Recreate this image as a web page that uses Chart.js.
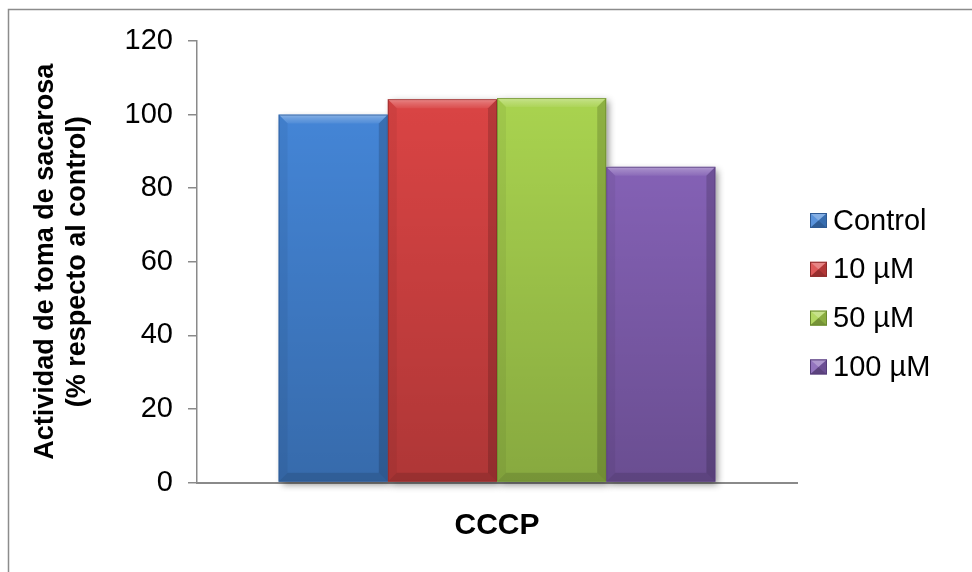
<!DOCTYPE html>
<html>
<head>
<meta charset="utf-8">
<script src="https://cdn.jsdelivr.net/npm/chart.js@4.4.1/dist/chart.umd.min.js"></script>
<style>
  html, body { margin: 0; padding: 0; background: #ffffff; }
  canvas { display: block; }
</style>
</head>
<body>
<canvas id="chart" width="972" height="572"></canvas>
<script>
// Sucrose uptake activity relative to control, CCCP treatment
const categories = ['CCCP'];
const seriesNames = ['Control', '10 µM', '50 µM', '100 µM'];
const controlValues = [100];
const tenMicroValues = [104.2];
const fiftyMicroValues = [104.5];
const hundredMicroValues = [85.8];
const yAxisTitle = ['Actividad de toma de sacarosa', '(% respecto al control)'];

const FONT = '"Liberation Sans", Arial, Helvetica, sans-serif';
const barColors = ['#4485D6', '#DA4444', '#A9D34F', '#8461B5'];
const edgeColors = ['#2E5A94', '#8E2A2A', '#6A8A2E', '#553C7A'];

const seriesValues = [controlValues, tenMicroValues, fiftyMicroValues, hundredMicroValues];

function barRect(el) {
  const p = el.getProps(['x', 'y', 'base', 'width'], true);
  return { l: p.x - p.width / 2, r: p.x + p.width / 2, t: Math.min(p.y, p.base), b: Math.max(p.y, p.base) };
}

// white page with a thin frame line on the top and left
const framePlugin = {
  id: 'frame',
  beforeDraw(chart) {
    const ctx = chart.ctx;
    ctx.save();
    ctx.fillStyle = '#ffffff';
    ctx.fillRect(0, 0, chart.width, chart.height);
    ctx.strokeStyle = '#8c8c8c';
    ctx.lineWidth = 1.5;
    ctx.beginPath();
    ctx.moveTo(8.5, chart.height);
    ctx.lineTo(8.5, 9.5);
    ctx.lineTo(chart.width, 9.5);
    ctx.stroke();
    ctx.restore();
  }
};

// soft drop shadow behind the bar group, then bevelled faces on each bar
const bevelPlugin = {
  id: 'bevel',
  beforeDatasetsDraw(chart) {
    const ctx = chart.ctx;
    ctx.save();
    ctx.shadowColor = 'rgba(0,0,0,0.45)';
    ctx.shadowBlur = 7;
    ctx.shadowOffsetX = 3;
    ctx.shadowOffsetY = 3;
    ctx.fillStyle = '#ffffff';
    chart.data.datasets.forEach((ds, i) => {
      chart.getDatasetMeta(i).data.forEach(el => {
        const r = barRect(el);
        ctx.fillRect(r.l, r.t, r.r - r.l, r.b - r.t);
      });
    });
    ctx.restore();
  },
  afterDatasetsDraw(chart) {
    const ctx = chart.ctx;
    const s = 9;
    chart.data.datasets.forEach((ds, i) => {
      chart.getDatasetMeta(i).data.forEach(el => {
        const { l, r, t, b } = barRect(el);
        ctx.save();
        // body shading, darker toward the base
        let g = ctx.createLinearGradient(0, t, 0, b);
        g.addColorStop(0, 'rgba(0,0,0,0)');
        g.addColorStop(1, 'rgba(0,0,0,0.2)');
        ctx.fillStyle = g;
        ctx.fillRect(l, t, r - l, b - t);
        // top face
        g = ctx.createLinearGradient(0, t, 0, t + s);
        g.addColorStop(0, 'rgba(255,255,255,0.38)');
        g.addColorStop(0.4, 'rgba(255,255,255,0.22)');
        g.addColorStop(1, 'rgba(255,255,255,0.06)');
        ctx.fillStyle = g;
        ctx.beginPath();
        ctx.moveTo(l, t); ctx.lineTo(r, t); ctx.lineTo(r - s, t + s); ctx.lineTo(l + s, t + s);
        ctx.closePath(); ctx.fill();
        // left face
        ctx.fillStyle = 'rgba(0,0,0,0.05)';
        ctx.beginPath();
        ctx.moveTo(l, t); ctx.lineTo(l + s, t + s); ctx.lineTo(l + s, b - s); ctx.lineTo(l, b);
        ctx.closePath(); ctx.fill();
        // right face
        ctx.fillStyle = 'rgba(0,0,0,0.16)';
        ctx.beginPath();
        ctx.moveTo(r, t); ctx.lineTo(r - s, t + s); ctx.lineTo(r - s, b - s); ctx.lineTo(r, b);
        ctx.closePath(); ctx.fill();
        // bottom face
        ctx.fillStyle = 'rgba(0,0,0,0.12)';
        ctx.beginPath();
        ctx.moveTo(l, b); ctx.lineTo(l + s, b - s); ctx.lineTo(r - s, b - s); ctx.lineTo(r, b);
        ctx.closePath(); ctx.fill();
        // outline
        ctx.strokeStyle = edgeColors[i];
        ctx.globalAlpha = 0.7;
        ctx.lineWidth = 1;
        ctx.strokeRect(l + 0.5, t + 0.5, r - l - 1, b - t - 1);
        ctx.restore();
      });
    });
  }
};

// legend column to the right of the plot with pyramid-style swatches
const sideLegendPlugin = {
  id: 'sideLegend',
  afterDraw(chart) {
    const ctx = chart.ctx;
    const x0 = chart.chartArea.right + 13;
    const y0 = 220.5;
    const step = 48.8;
    const w = 17, h = 15;
    ctx.save();
    chart.data.datasets.forEach((ds, i) => {
      const cy = y0 + i * step;
      const bx = x0, by = cy - h / 2;
      const cx = bx + w / 2, my = by + h / 2;
      ctx.fillStyle = barColors[i];
      ctx.fillRect(bx, by, w, h);
      const faces = [
        [[bx, by], [bx + w, by], 'rgba(255,255,255,0.35)'],
        [[bx, by], [bx, by + h], 'rgba(255,255,255,0.12)'],
        [[bx + w, by], [bx + w, by + h], 'rgba(0,0,0,0.18)'],
        [[bx, by + h], [bx + w, by + h], 'rgba(0,0,0,0.3)']
      ];
      faces.forEach(([a, c, col]) => {
        ctx.fillStyle = col;
        ctx.beginPath();
        ctx.moveTo(a[0], a[1]); ctx.lineTo(c[0], c[1]); ctx.lineTo(cx, my);
        ctx.closePath(); ctx.fill();
      });
      ctx.strokeStyle = edgeColors[i];
      ctx.lineWidth = 1;
      ctx.strokeRect(bx + 0.5, by + 0.5, w - 1, h - 1);
      ctx.fillStyle = '#000000';
      ctx.font = '29px ' + FONT;
      ctx.textAlign = 'left';
      ctx.textBaseline = 'middle';
      ctx.fillText(ds.label, bx + w + 6, cy + 1);
    });
    ctx.restore();
  }
};

const datasets = seriesNames.map((name, i) => ({
  label: name,
  data: seriesValues[i],
  backgroundColor: barColors[i],
  borderWidth: 0,
  barPercentage: 1.0,
  categoryPercentage: 0.728
}));

new Chart(document.getElementById('chart'), {
  type: 'bar',
  data: { labels: categories, datasets },
  plugins: [framePlugin, bevelPlugin, sideLegendPlugin],
  options: {
    responsive: false,
    animation: false,
    devicePixelRatio: 1,
    layout: { padding: { top: 41, right: 175, bottom: 0, left: 0 } },
    plugins: {
      legend: { display: false },
      tooltip: { enabled: false }
    },
    scales: {
      x: {
        type: 'category',
        offset: true,
        grid: { display: false, drawTicks: false },
        border: { display: true, color: '#8a8a8a', width: 2 },
        ticks: {
          color: '#000000',
          padding: 25,
          font: { family: FONT, size: 30, weight: 'bold' }
        },
        afterFit(scale) { scale.height = 89.5; }
      },
      y: {
        min: 0,
        max: 120,
        ticks: {
          stepSize: 20,
          color: '#000000',
          padding: 15,
          font: { family: FONT, size: 29 }
        },
        grid: {
          display: true,
          drawOnChartArea: false,
          drawTicks: true,
          tickLength: 9,
          color: '#8a8a8a',
          lineWidth: 1.5
        },
        border: { display: true, color: '#8a8a8a', width: 1.5 },
        title: {
          display: true,
          text: yAxisTitle,
          color: '#000000',
          padding: { top: 29, bottom: 0 },
          font: { family: FONT, size: 27, weight: 'bold', lineHeight: 1.2 }
        },
        afterFit(scale) { scale.width = 197; }
      }
    }
  }
});
</script>
</body>
</html>
